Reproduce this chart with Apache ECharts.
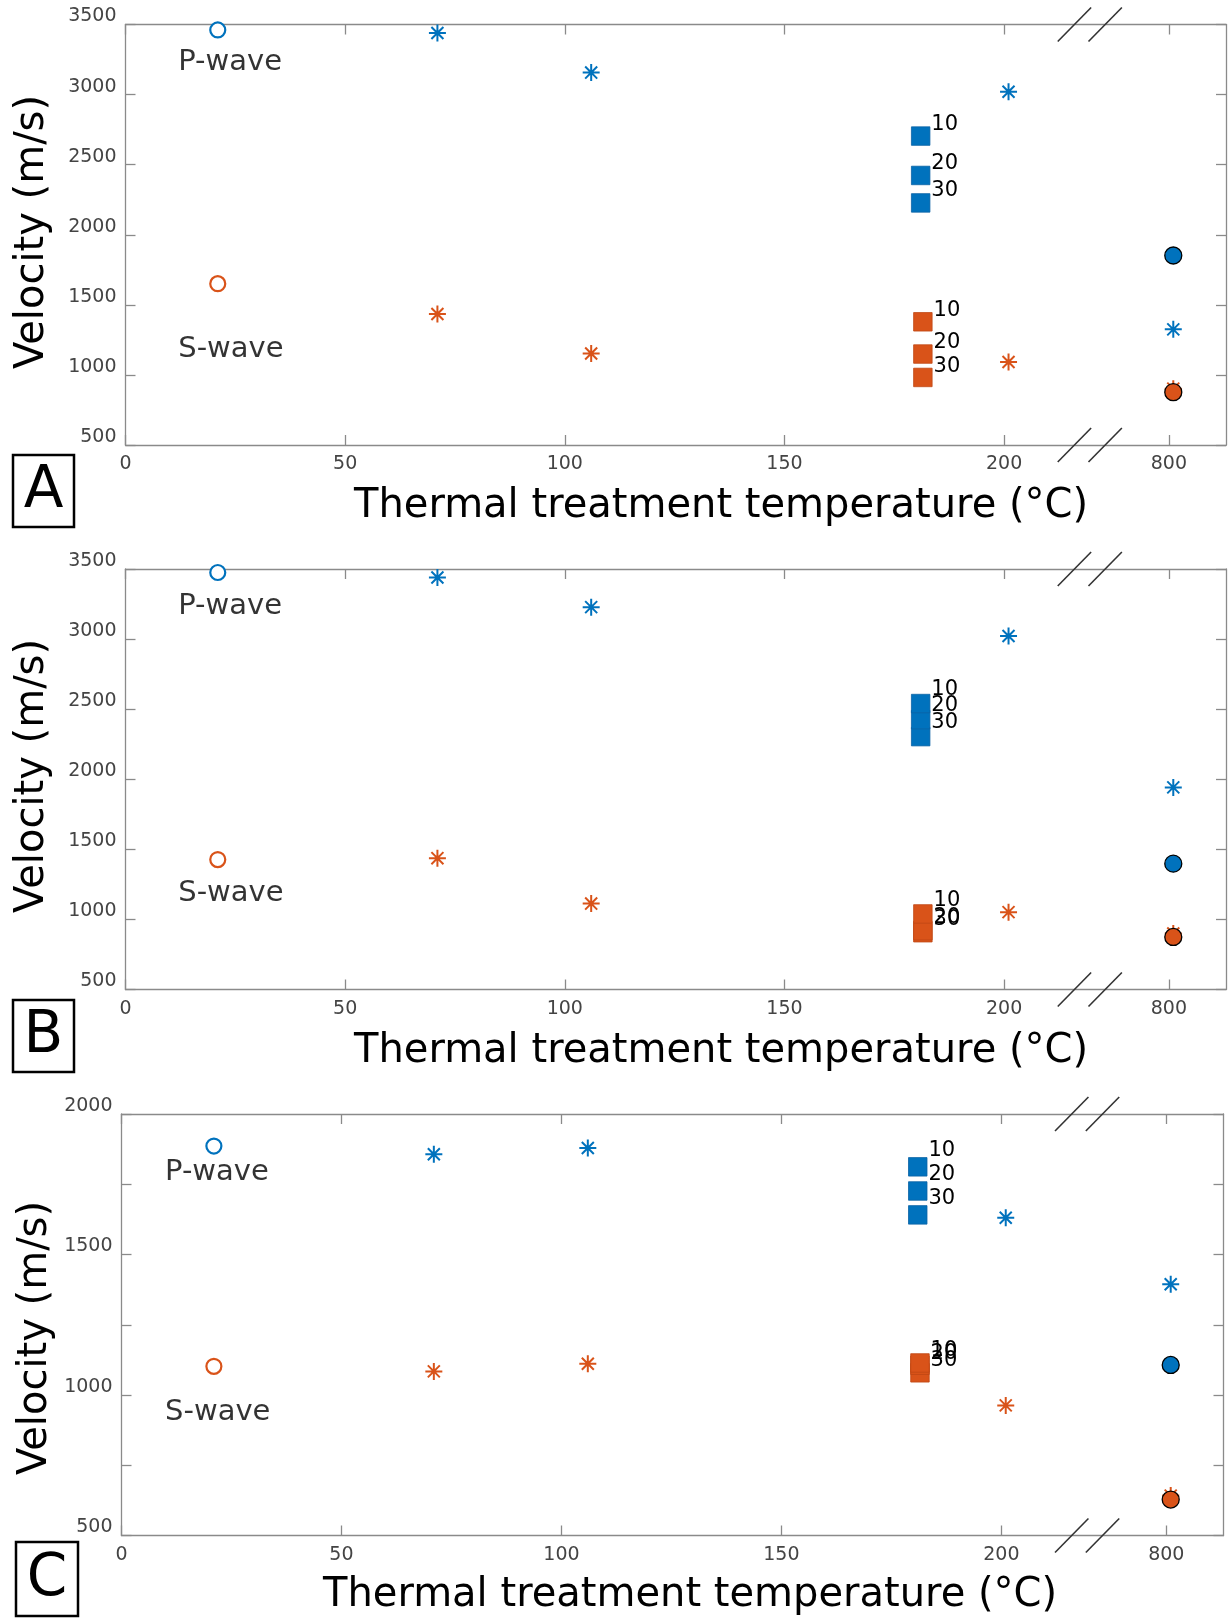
<!DOCTYPE html>
<html>
<head>
<meta charset="utf-8">
<script src="https://cdn.jsdelivr.net/npm/echarts@6/dist/echarts.min.js"></script>
<style>
  html, body { margin: 0; padding: 0; background: #fff; }
  #chart { width: 1229px; height: 1618px; }
</style>
</head>
<body>
<div id="chart"></div>
<script>
// x positions (deg C); 800 is drawn past the axis break
var roomTemp = 21;
var starTemps = [71, 106, 201, 800];
var squareTempP = 181, squareTempS = 181.5;
var squareNames = ['10', '20', '30'];
var xTickValues = [0, 50, 100, 150, 200, 800];

// panel A
var aPCircle = 3461, aPStar = [3439, 3157, 3020, 1325], aPSquare = [2704, 2423, 2227], aPDot = 1852;
var aSCircle = 1651, aSStar = [1435, 1153, 1092, 902], aSSquare = [1379, 1149, 982], aSDot = 877;
// panel B
var bPCircle = 3475, bPStar = [3439, 3228, 3022, 1942], bPSquare = [2540, 2425, 2304], bPDot = 1398;
var bSCircle = 1427, bSStar = [1437, 1113, 1052, 900], bSSquare = [1039, 920, 905], bSDot = 875;
// panel C
var cPCircle = 1886, cPStar = [1857, 1879, 1631, 1394], cPSquare = [1812, 1726, 1641], cPDot = 1107;
var cSCircle = 1102, cSStar = [1084, 1111, 963, 642], cSSquare = [1114, 1106, 1079], cSDot = 628;

var BLUE = '#0072BD', ORANGE = '#D95319';
var FONT = 'DejaVu Sans';
var AXIS = '#8a8a8a';
var STAR = 'path://M0,-10L0,10M-10,0L10,0M-7.07,-7.07L7.07,7.07M-7.07,7.07L7.07,-7.07';

// where 800 sits on the broken axis
function xPos(t) { return t === 800 ? 238.5 : t; }
function tickPos(t) { return t === 800 ? 237.5 : t; }
var xTicks = xTickValues.map(tickPos);

var grids = [
  { left: 125.5, top: 24.5, width: 1100.5, height: 420.5 },
  { left: 125.5, top: 569, width: 1100.5, height: 420.5 },
  { left: 121.5, top: 1114, width: 1102, height: 421.5 }
];
var yMax = [3500, 3500, 2000];
var yStep = [500, 500, 250];
// how far the 10/20/30 labels sit above their squares [P, S]
var numberLift = [[-12, -11], [-14, -13], [-16, -12]];

var xAxes = [], yAxes = [];
grids.forEach(function (g, i) {
  ['bottom', 'top'].forEach(function (pos) {
    xAxes.push({
      gridIndex: i, type: 'value', min: 0, max: 250.5, position: pos,
      axisLine: { show: true, onZero: false, lineStyle: { color: AXIS, width: 1.3 } },
      axisTick: { show: true, inside: true, length: 10, customValues: xTicks, lineStyle: { color: AXIS, width: 1.3 } },
      axisLabel: {
        show: pos === 'bottom', customValues: xTicks, margin: 10,
        fontSize: 19, fontFamily: FONT, color: '#444',
        formatter: function (v) { return v === 237.5 ? '800' : String(v); }
      },
      splitLine: { show: false }
    });
  });
  ['left', 'right'].forEach(function (pos) {
    yAxes.push({
      gridIndex: i, type: 'value', min: 500, max: yMax[i], interval: yStep[i], position: pos,
      axisLine: { show: true, onZero: false, lineStyle: { color: AXIS, width: 1.3 } },
      axisTick: { show: true, inside: true, length: 10, lineStyle: { color: AXIS, width: 1.3 } },
      axisLabel: {
        show: pos === 'left', margin: 9, fontSize: 19, fontFamily: FONT, color: '#444',
        verticalAlign: 'bottom', lineHeight: 16,
        formatter: function (v) { return v % 500 === 0 ? String(v) : ''; }
      },
      splitLine: { show: false }
    });
  });
});

function panelSeries(gi, pc, ps, psq, pd, sc, ss, ssq, sd, notes) {
  var ax = { xAxisIndex: gi * 2, yAxisIndex: gi * 2 };
  var out = [];
  function add(o) { out.push(Object.assign({ type: 'scatter', silent: true }, ax, o)); }
  [[BLUE, '#0a62a4', pc, ps, psq, pd, squareTempP, numberLift[gi][0]],
   [ORANGE, '#bf4714', sc, ss, ssq, sd, squareTempS, numberLift[gi][1]]].forEach(function (w) {
    var col = w[0];
    add({ symbol: 'circle', symbolSize: 15, z: 3,
      itemStyle: { color: '#fff', borderColor: col, borderWidth: 2.2, opacity: 1 },
      data: [[xPos(roomTemp), w[2]]] });
    add({ symbol: STAR, symbolSize: 17, z: 2,
      itemStyle: { color: col, borderColor: col, borderWidth: 2, opacity: 1 },
      data: starTemps.map(function (t, k) { return [xPos(t), w[3][k]]; }) });
    // 30 first so that 10 ends up on top
    add({ symbol: 'rect', symbolSize: 18.5, z: 3,
      itemStyle: { color: col, borderColor: w[1], borderWidth: 0.8, opacity: 1 },
      label: { show: true, formatter: '{b}', position: 'right', distance: 1, offset: [0, w[7]],
        fontSize: 21, fontFamily: FONT, color: '#000' },
      data: w[4].map(function (v, k) { return { name: squareNames[k], value: [w[6], v] }; }).reverse() });
    add({ symbol: 'circle', symbolSize: 17, z: 4,
      itemStyle: { color: col, borderColor: '#000', borderWidth: 1.3, opacity: 1 },
      data: [[xPos(800), w[5]]] });
  });
  add({ symbolSize: 0, z: 5,
    label: { show: true, position: 'inside', align: 'left', verticalAlign: 'middle',
      formatter: '{b}', fontSize: 29, fontFamily: FONT, color: '#000' },
    data: notes.map(function (n) { return { name: n[0], value: [n[1], n[2]] }; }) });
  return out;
}

var series = []
  .concat(panelSeries(0, aPCircle, aPStar, aPSquare, aPDot, aSCircle, aSStar, aSSquare, aSDot,
    [['P-wave', 12, 3229], ['S-wave', 12, 1184]]))
  .concat(panelSeries(1, bPCircle, bPStar, bPSquare, bPDot, bSCircle, bSStar, bSSquare, bSDot,
    [['P-wave', 12, 3231], ['S-wave', 12, 1185]]))
  .concat(panelSeries(2, cPCircle, cPStar, cPSquare, cPDot, cSCircle, cSStar, cSSquare, cSDot,
    [['P-wave', 9.9, 1793], ['S-wave', 9.9, 937]]));

var chart = echarts.init(document.getElementById('chart'));
chart.setOption({
  animation: false,
  backgroundColor: '#fff',
  grid: grids,
  xAxis: xAxes,
  yAxis: yAxes,
  series: series
});

// titles, panel letters and the axis break marks
var graphics = [];
var xTitle = 'Thermal treatment temperature (\u00b0C)';
var titlePos = [[354, 507], [354, 1052], [323, 1596]];
var yTitlePos = [[33, 232], [33, 776], [35.5, 1338]];
var letterBox = [['A', 13, 455, 61, 72], ['B', 13, 1000, 61, 72], ['C', 16, 1542, 62, 74]];
titlePos.forEach(function (p) {
  graphics.push({ type: 'text', x: p[0], y: p[1], silent: true,
    style: { text: xTitle, font: '40px "DejaVu Sans"', fill: '#000', textAlign: 'left', textVerticalAlign: 'middle' } });
});
yTitlePos.forEach(function (p) {
  graphics.push({ type: 'text', x: p[0], y: p[1], rotation: Math.PI / 2, silent: true,
    style: { text: 'Velocity (m/s)', font: '40px "DejaVu Sans"', fill: '#000', textAlign: 'center', textVerticalAlign: 'middle' } });
});
letterBox.forEach(function (b) {
  graphics.push({ type: 'rect', silent: true, shape: { x: b[1], y: b[2], width: b[3], height: b[4] },
    style: { fill: 'none', stroke: '#000', lineWidth: 2.5 } });
  graphics.push({ type: 'text', silent: true, x: b[1] + b[3] / 2, y: b[2] + b[4] / 2 + 1,
    style: { text: b[0], font: '58px "DejaVu Sans"', fill: '#000', textAlign: 'center', textVerticalAlign: 'middle' } });
});
var breakAt = [216, 223];
grids.forEach(function (g, i) {
  breakAt.forEach(function (u) {
    var px = chart.convertToPixel({ xAxisIndex: i * 2 }, u);
    [g.top, g.top + g.height].forEach(function (py) {
      graphics.push({ type: 'line', silent: true, z: 10,
        shape: { x1: px - 16.7, y1: py + 17, x2: px + 16.7, y2: py - 17 },
        style: { stroke: '#333', lineWidth: 1.6 } });
    });
  });
});
chart.setOption({ graphic: graphics });
</script>
</body>
</html>
